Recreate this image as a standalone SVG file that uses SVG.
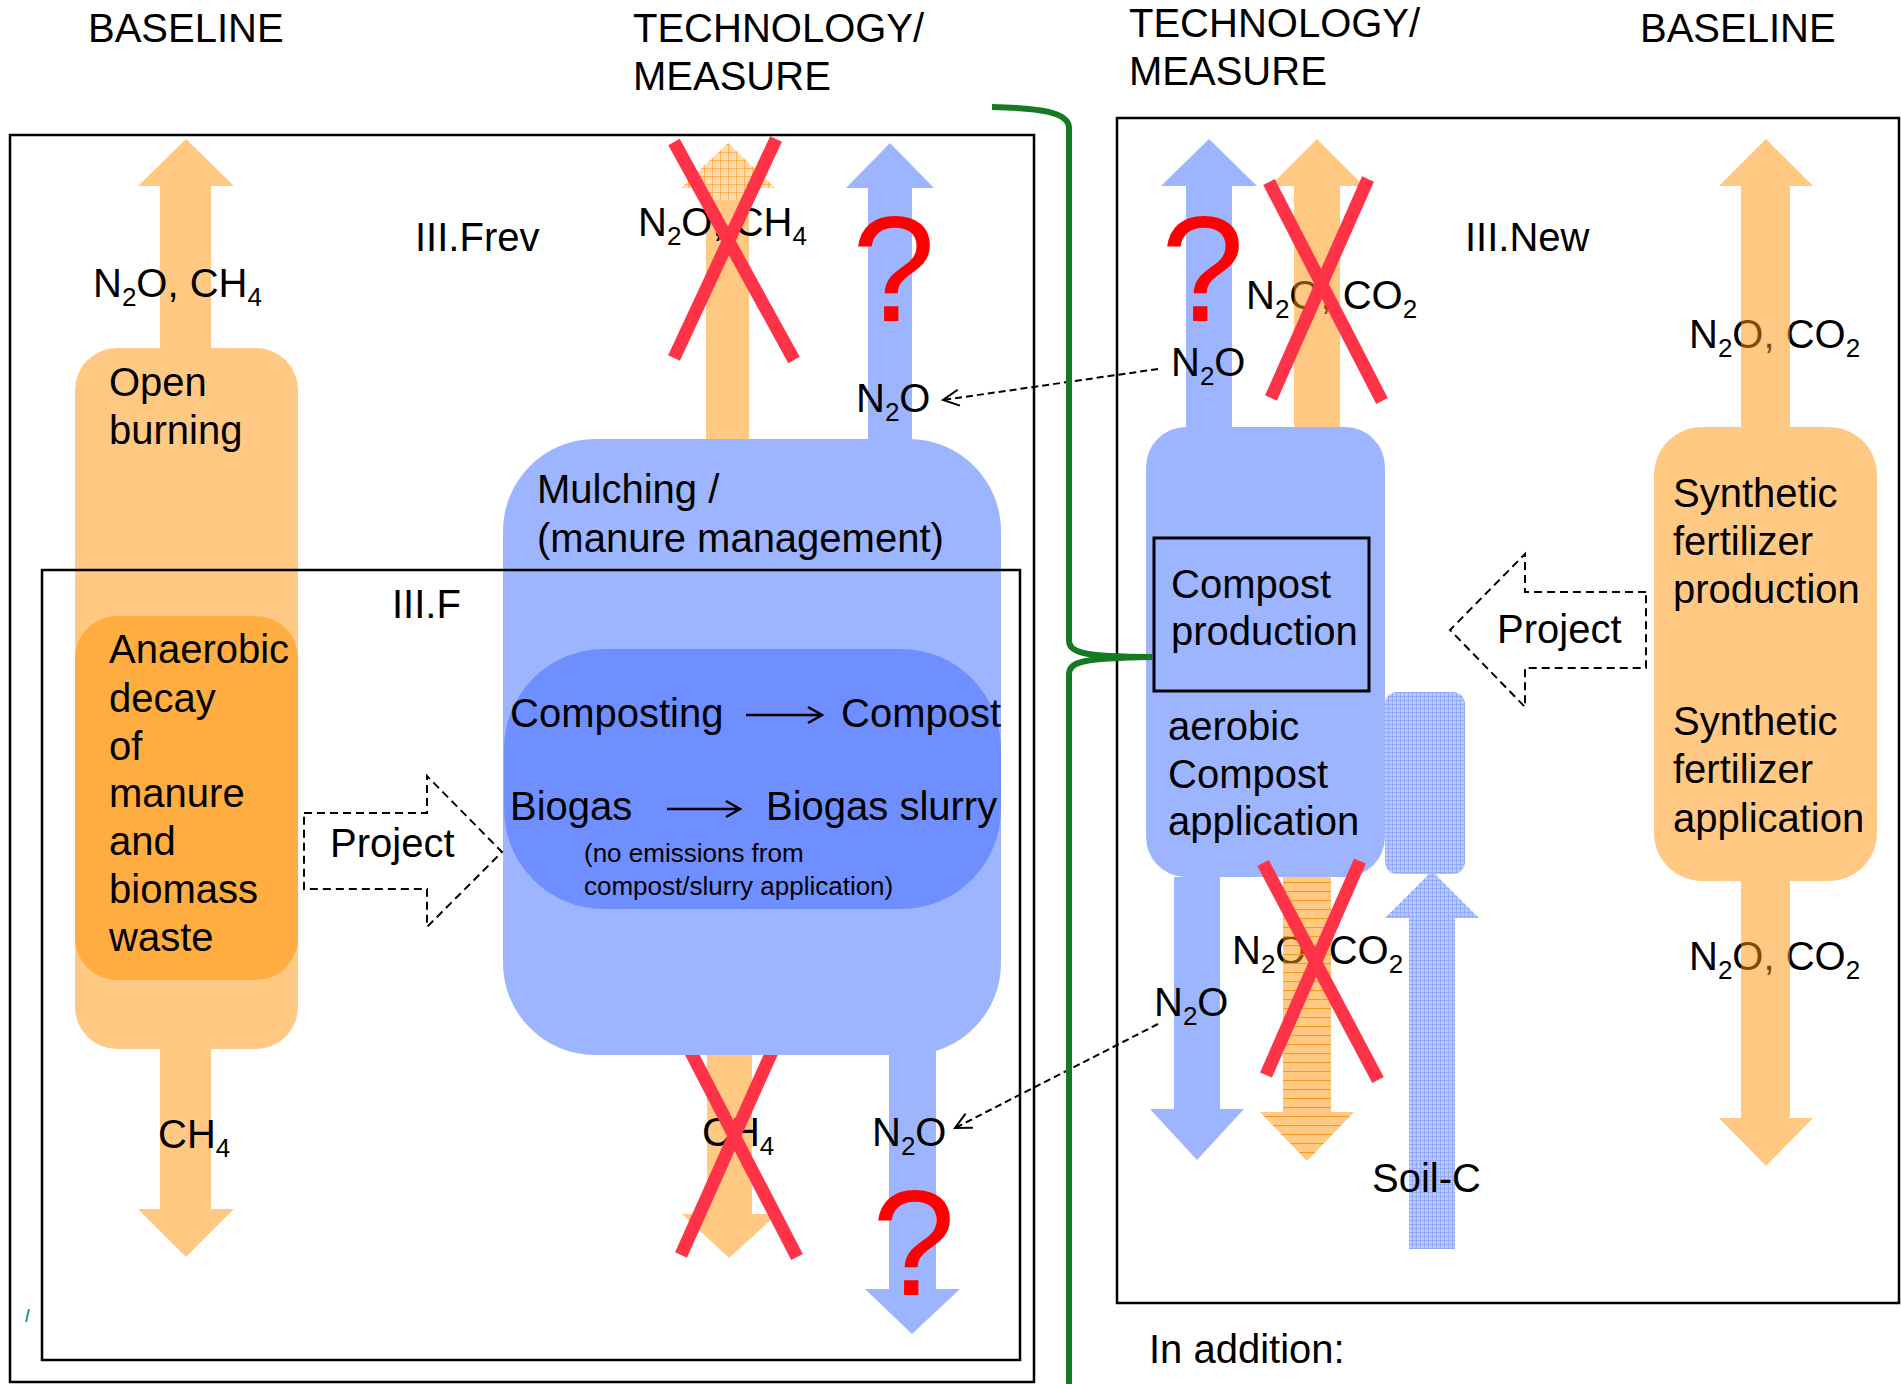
<svg xmlns="http://www.w3.org/2000/svg" width="1901" height="1384" viewBox="0 0 1901 1384">
<style>
text{font-family:'Liberation Sans',Arial,sans-serif;font-size:40px;fill:#000}
.small{font-size:26px}
.q{font-size:150px;fill:#ff0000}
.box{fill:none;stroke:#000;stroke-width:2.5}
.xr{stroke:#ff3347;stroke-width:13;fill:none}
.dash{fill:none;stroke:#000;stroke-width:2;stroke-dasharray:8 5}
.conn{fill:none;stroke:#000;stroke-width:2;stroke-dasharray:7 4}
.lo{fill:#ffc983}
.lot{fill:#ff9207;fill-opacity:0.5}
.do{fill:#ffad40}
.lb{fill:#9db4ff}
.ib{fill:#6f8eff}
</style>
<defs>
<marker id="open" viewBox="0 0 20 20" refX="18" refY="10" markerWidth="20" markerHeight="20" markerUnits="userSpaceOnUse" orient="auto">
<path d="M2,2 L18,10 L2,18" fill="none" stroke="#000" stroke-width="2"/>
</marker>
<pattern id="grid" width="4" height="4" patternUnits="userSpaceOnUse">
<rect width="4" height="4" fill="#b9c9ff"/>
<path d="M0,0.5 H4 M0.5,0 V4" stroke="#93abf7" stroke-width="1"/>
</pattern>
<pattern id="stripe" width="8" height="9" patternUnits="userSpaceOnUse">
<rect width="8" height="9" fill="#ff9207" fill-opacity="0.5"/>
<path d="M0,0.5 H8" stroke="#f39a20" stroke-width="1.2"/>
</pattern>
<pattern id="hgrid" width="8" height="8" patternUnits="userSpaceOnUse">
<rect width="8" height="8" fill="#fff" fill-opacity="0.35"/>
<path d="M0,0.5 H8 M0.5,0 V8" stroke="#ffa640" stroke-width="0.8"/>
</pattern>
</defs>

<!-- headers -->
<g id="headers">
<text x="88" y="42">BASELINE</text>
<text x="633" y="42">TECHNOLOGY/</text>
<text x="633" y="90">MEASURE</text>
<text x="1129" y="37">TECHNOLOGY/</text>
<text x="1129" y="85">MEASURE</text>
<text x="1640" y="42">BASELINE</text>
</g>

<!-- LEFT BASELINE -->
<g id="open-burning-up">
<path class="lo" d="M160,352 V186 H138 L186,139 L234,186 H211 V352 Z"/>
<text x="93" y="297">N<tspan class="small" dy="9">2</tspan><tspan dy="-9">O, CH</tspan><tspan class="small" dy="9">4</tspan></text>
</g>
<g id="open-burning">
<rect class="lo" x="75" y="348" width="223" height="701" rx="42"/>
<text x="109" y="396">Open</text>
<text x="109" y="444">burning</text>
</g>
<g id="anaerobic-decay">
<rect class="do" x="75" y="616" width="223" height="364" rx="42"/>
<text x="109" y="663">Anaerobic</text>
<text x="109" y="712">decay</text>
<text x="109" y="760">of</text>
<text x="109" y="807">manure</text>
<text x="109" y="855">and</text>
<text x="109" y="903">biomass</text>
<text x="109" y="951">waste</text>
</g>
<g id="ch4-down">
<path class="lo" d="M160,1045 V1209 H138 L186,1257 L234,1209 H211 V1045 Z"/>
<text x="158" y="1148">CH<tspan class="small" dy="9">4</tspan></text>
</g>

<!-- MIDDLE -->
<g id="mid-orange-up">
<path class="lo" d="M706,442 V188 H681 L728,143 L775,188 H749 V442 Z"/>
<path fill="url(#hgrid)" d="M706,200 V188 H681 L728,143 L775,188 H749 V200 Z"/>
<text x="638" y="236">N<tspan class="small" dy="9">2</tspan><tspan dy="-9">O, CH</tspan><tspan class="small" dy="9">4</tspan></text>
<path class="xr" d="M674,142 L794,360 M776,139 L674,358"/>
</g>
<g id="mid-blue-up">
<path class="lb" d="M868,442 V188 H846 L890,143 L934,188 H912 V442 Z"/>
<text class="q" x="852" y="321">?</text>
<text x="856" y="412">N<tspan class="small" dy="9">2</tspan><tspan dy="-9">O</tspan></text>
</g>
<g id="mid-orange-down">
<path class="lo" d="M707,1050 V1214 H682 L729,1258 L777,1214 H752 V1050 Z"/>
<text x="702" y="1146">CH<tspan class="small" dy="9">4</tspan></text>
<path class="xr" d="M683,1037 L797,1257 M780,1034 L681,1255"/>
</g>
<g id="mid-blue-down">
<path class="lb" d="M889,1050 V1289 H865 L912,1334 L960,1289 H936 V1050 Z"/>
<text x="872" y="1146">N<tspan class="small" dy="9">2</tspan><tspan dy="-9">O</tspan></text>
<text class="q" x="872" y="1295">?</text>
</g>
<g id="mulching">
<rect class="lb" x="503" y="439" width="498" height="616" rx="92"/>
<text x="537" y="503">Mulching /</text>
<text x="537" y="552">(manure management)</text>
</g>
<g id="composting-biogas">
<rect class="ib" x="504" y="649" width="497" height="260" rx="100"/>
<text x="510" y="727">Composting</text>
<path d="M746,715 H822 M808,707 L822,715 L808,723" fill="none" stroke="#000" stroke-width="2.5"/>
<text x="841" y="727">Compost</text>
<text x="510" y="820">Biogas</text>
<path d="M667,809 H740 M726,801 L740,809 L726,817" fill="none" stroke="#000" stroke-width="2.5"/>
<text x="766" y="820">Biogas slurry</text>
<text class="small" x="584" y="862">(no emissions from</text>
<text class="small" x="584" y="895">compost/slurry application)</text>
</g>
<g id="project-left">
<path class="dash" style="fill:#fff" d="M304,813 H427 V776 L502,852 L427,927 V889 H304 Z"/>
<text x="330" y="857">Project</text>
</g>

<!-- RIGHT -->
<g id="right-blue-up">
<path class="lb" d="M1186,430 V186 H1161 L1209,139 L1257,186 H1232 V430 Z"/>
<text class="q" x="1161" y="321">?</text>
<text x="1171" y="376">N<tspan class="small" dy="9">2</tspan><tspan dy="-9">O</tspan></text>
</g>
<g id="right-orange-up">
<text x="1246" y="309">N<tspan class="small" dy="9">2</tspan><tspan dy="-9">O, CO</tspan><tspan class="small" dy="9">2</tspan></text>
<path class="lot" d="M1294,427 V186 H1270 L1317,139 L1364,186 H1340 V427 Z"/>
<path class="xr" d="M1269,182 L1382,401 M1368,179 L1271,398"/>
</g>
<g id="aerobic-compost">
<rect class="lb" x="1146" y="427" width="239" height="450" rx="40"/>
<rect x="1154" y="538" width="215" height="153" fill="none" stroke="#000" stroke-width="3"/>
<text x="1171" y="598">Compost</text>
<text x="1171" y="645">production</text>
<text x="1168" y="740">aerobic</text>
<text x="1168" y="788">Compost</text>
<text x="1168" y="835">application</text>
</g>
<g id="right-blue-down">
<path class="lb" d="M1174,877 V1109 H1150 L1197,1160 L1244,1109 H1220 V877 Z"/>
<text x="1154" y="1016">N<tspan class="small" dy="9">2</tspan><tspan dy="-9">O</tspan></text>
</g>
<g id="right-orange-down">
<text x="1232" y="964">N<tspan class="small" dy="9">2</tspan><tspan dy="-9">O, CO</tspan><tspan class="small" dy="9">2</tspan></text>
<path fill="url(#stripe)" d="M1283,877 V1112 H1260 L1307,1161 L1354,1112 H1331 V877 Z"/>
<path class="xr" d="M1263,863 L1378,1080 M1360,861 L1266,1075"/>
</g>
<g id="soil-c">
<rect x="1385" y="692" width="80" height="182" rx="12" fill="url(#grid)"/>
<path fill="url(#grid)" d="M1409,1249 V918 H1385 L1432,871 L1479,918 H1455 V1249 Z"/>
<text x="1372" y="1192">Soil-C</text>
</g>
<g id="synthetic-fertilizer">
<text x="1689" y="348">N<tspan class="small" dy="9">2</tspan><tspan dy="-9">O, CO</tspan><tspan class="small" dy="9">2</tspan></text>
<path class="lot" d="M1741,427 V186 H1719 L1766,139 L1813,186 H1790 V427 Z"/>
<rect class="lo" x="1654" y="427" width="223" height="454" rx="48"/>
<text x="1673" y="507">Synthetic</text>
<text x="1673" y="555">fertilizer</text>
<text x="1673" y="603">production</text>
<text x="1673" y="735">Synthetic</text>
<text x="1673" y="783">fertilizer</text>
<text x="1673" y="832">application</text>
<text x="1689" y="970">N<tspan class="small" dy="9">2</tspan><tspan dy="-9">O, CO</tspan><tspan class="small" dy="9">2</tspan></text>
<path class="lot" d="M1741,881 V1118 H1719 L1766,1166 L1813,1118 H1790 V881 Z"/>
</g>
<g id="project-right">
<path class="dash" style="fill:#fff" d="M1646,592 H1525 V554 L1450,630 L1525,707 V668 H1646 Z"/>
<text x="1497" y="643">Project</text>
</g>

<!-- frames -->
<g id="frames">
<rect class="box" x="10" y="135" width="1024" height="1247"/>
<rect class="box" x="42" y="570" width="978" height="790"/>
<rect class="box" x="1117" y="118" width="782" height="1185"/>
<text x="415" y="251">III.Frev</text>
<text x="392" y="618">III.F</text>
<text x="1465" y="251">III.New</text>
<path d="M26,1322 L29,1309" stroke="#1aa08c" stroke-width="2"/>
</g>

<!-- connectors -->
<g id="connectors">
<path class="conn" d="M1158,369 L943,400" marker-end="url(#open)"/>
<path class="conn" d="M1158,1024 L955,1128" marker-end="url(#open)"/>
<path d="M992,107 C1040,108 1069,112 1069,128 L1069,640 C1069,652 1080,657 1152,657 C1080,658 1069,662 1069,675 L1069,1384" fill="none" stroke="#157a22" stroke-width="6"/>
</g>

<g id="note">
<text x="1149" y="1363">In addition:</text>
</g>
</svg>
